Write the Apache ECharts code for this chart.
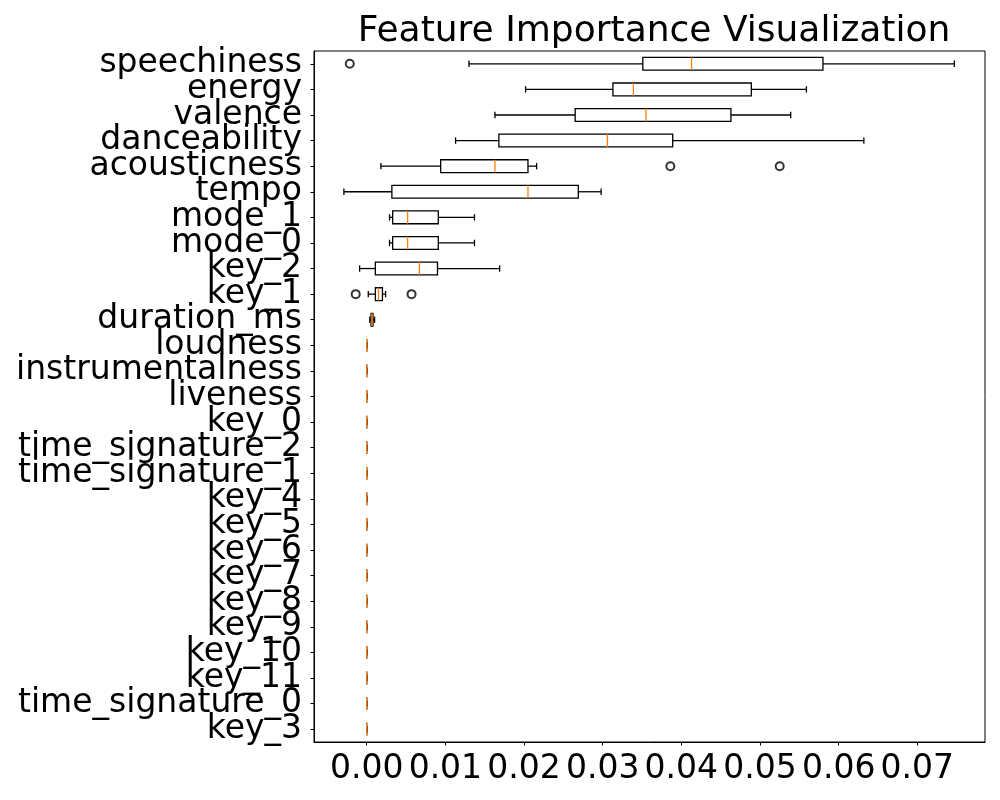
<!DOCTYPE html>
<html>
<head>
<meta charset="utf-8">
<script src="https://cdn.jsdelivr.net/npm/echarts@6.0.0/dist/echarts.min.js"></script>
<style>
  html, body { margin: 0; padding: 0; background: #fff; }
  #chart { width: 1000px; height: 800px; }
</style>
</head>
<body>
<div id="chart"></div>
<script>
// features, top to bottom
const features = [
  'speechiness', 'energy', 'valence', 'danceability', 'acousticness', 'tempo',
  'mode_1', 'mode_0', 'key_2', 'key_1', 'duration_ms', 'loudness',
  'instrumentalness', 'liveness', 'key_0', 'time_signature_2', 'time_signature_1',
  'key_4', 'key_5', 'key_6', 'key_7', 'key_8', 'key_9', 'key_10', 'key_11',
  'time_signature_0', 'key_3',
];

// box stats (zero rows at the bottom)
const whiskerLow = [0.0130, 0.0202, 0.0163, 0.0113, 0.0018, -0.0029, 0.0029, 0.0029, -0.0009, 0.0002, 0.0004,
  0, 0, 0, 0, 0, 0, 0, 0, 0, 0, 0, 0, 0, 0, 0, 0];
const q1 = [0.0351, 0.0313, 0.0265, 0.0168, 0.0094, 0.0032, 0.0033, 0.0033, 0.0011, 0.0011, 0.00055,
  0, 0, 0, 0, 0, 0, 0, 0, 0, 0, 0, 0, 0, 0, 0, 0];
const median = [0.0413, 0.0339, 0.0355, 0.0306, 0.0163, 0.0205, 0.0052, 0.0052, 0.0067, 0.0015, 0.00067,
  0, 0, 0, 0, 0, 0, 0, 0, 0, 0, 0, 0, 0, 0, 0, 0];
const q3 = [0.0580, 0.0489, 0.0463, 0.0389, 0.0205, 0.0269, 0.0091, 0.0091, 0.0090, 0.0020, 0.0008,
  0, 0, 0, 0, 0, 0, 0, 0, 0, 0, 0, 0, 0, 0, 0, 0];
const whiskerHigh = [0.0747, 0.0559, 0.0539, 0.0632, 0.0216, 0.0298, 0.0137, 0.0137, 0.0169, 0.0024, 0.0010,
  0, 0, 0, 0, 0, 0, 0, 0, 0, 0, 0, 0, 0, 0, 0, 0];

// outliers
const outlierFeature = ['speechiness', 'acousticness', 'acousticness', 'key_1', 'key_1'];
const outlierValue = [-0.00215, 0.0386, 0.0525, -0.0014, 0.0057];

const FONT = 'DejaVu Sans';
const MEDIAN_COLOR = '#ff7f0e';
const LW = 1.3;

const boxData = features.map((f, i) => [i, whiskerLow[i], q1[i], median[i], q3[i], whiskerHigh[i]]);
const outlierData = outlierFeature.map((f, i) => [outlierValue[i], f]);

function seg(x1, y1, x2, y2, color) {
  return { type: 'line', shape: { x1, y1, x2, y2 }, style: { stroke: color, lineWidth: LW } };
}

// matplotlib-like box: box 50% of band, caps 25%
function renderBox(params, api) {
  const cat = api.value(0);
  const lo = api.coord([api.value(1), cat]);
  const b1 = api.coord([api.value(2), cat]);
  const md = api.coord([api.value(3), cat]);
  const b3 = api.coord([api.value(4), cat]);
  const hi = api.coord([api.value(5), cat]);
  const band = api.size([0, 1])[1];
  const hb = band * 0.25;
  const hc = band * 0.125;
  const y = lo[1];
  return {
    type: 'group',
    children: [
      seg(lo[0], y, b1[0], y, '#000'),
      seg(b3[0], y, hi[0], y, '#000'),
      seg(lo[0], y - hc, lo[0], y + hc, '#000'),
      seg(hi[0], y - hc, hi[0], y + hc, '#000'),
      {
        type: 'rect',
        shape: { x: b1[0], y: y - hb, width: b3[0] - b1[0], height: hb * 2 },
        style: { fill: 'none', stroke: '#000', lineWidth: LW },
      },
      seg(md[0], y - hb, md[0], y + hb, MEDIAN_COLOR),
    ],
  };
}

const chart = echarts.init(document.getElementById('chart'));

chart.setOption({
  animation: false,
  backgroundColor: '#fff',
  title: {
    text: 'Feature Importance Visualization',
    left: 649,
    textAlign: 'center',
    top: 9,
    textStyle: { fontFamily: FONT, fontSize: 36, fontWeight: 'normal', color: '#000' },
  },
  grid: {
    left: 314, right: 15, top: 51, bottom: 58,
    show: true, borderColor: '#000', borderWidth: 1,
  },
  xAxis: {
    type: 'value',
    min: -0.0067,
    max: 0.0786,
    splitNumber: 8,
    axisLine: { show: true, onZero: false, lineStyle: { color: '#000', width: 1 } },
    axisTick: { show: true, length: 3.5, lineStyle: { color: '#000' } },
    axisLabel: {
      color: '#000', fontFamily: FONT, fontSize: 33, margin: 11,
      showMinLabel: false, showMaxLabel: false,
      formatter: (v) => v.toFixed(2),
    },
    splitLine: { show: false },
  },
  yAxis: {
    type: 'category',
    data: features,
    inverse: true,
    axisLine: { show: true, onZero: false, lineStyle: { color: '#000', width: 1 } },
    axisTick: { show: true, alignWithLabel: true, length: 3.5, lineStyle: { color: '#000' } },
    axisLabel: {
      interval: 0, color: '#000', fontFamily: FONT, fontSize: 33, margin: 12,
      padding: [9, 0, 0, 0],
    },
    splitLine: { show: false },
  },
  series: [
    {
      type: 'custom',
      renderItem: renderBox,
      data: boxData,
      encode: { x: [1, 2, 3, 4, 5], y: 0 },
      z: 2,
    },
    {
      type: 'scatter',
      data: outlierData,
      symbol: 'emptyCircle',
      symbolSize: 8,
      itemStyle: { color: '#000', borderColor: '#000', borderWidth: 1 },
      z: 3,
    },
  ],
});
</script>
</body>
</html>
